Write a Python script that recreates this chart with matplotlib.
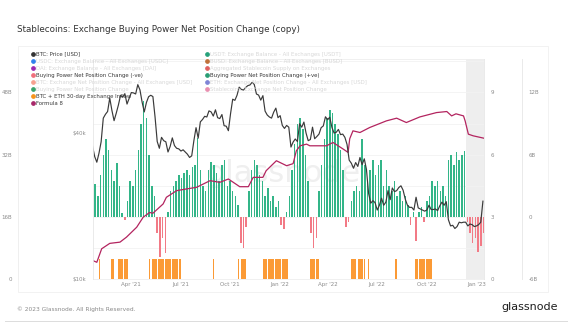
import numpy as np
import pandas as pd
import matplotlib.pyplot as plt
from matplotlib.lines import Line2D
from matplotlib.patches import Rectangle
from matplotlib.ticker import NullLocator, FixedLocator

# ---- data ----
# BTC price, one value every 4 days from 2021-01-19
btc_price = [35500, 32100, 30400, 33100, 36900, 46200, 47900, 49200, 55900, 49700,
             45100, 48400, 52300, 57300, 56400, 58300, 52800, 55800, 58900, 58700,
             58100, 63500, 60400, 53800, 49000, 53600, 56600, 57400, 56700, 46700,
             37000, 34700, 38500, 37300, 36900, 33500, 35300, 38300, 35600, 34700,
             34500, 33800, 34200, 33500, 32800, 31800, 32300, 37300, 42200, 38200,
             44600, 45600, 47000, 46700, 49500, 49000, 47100, 50000, 46400, 46000,
             47800, 43000, 42800, 41000, 48200, 55300, 54700, 57400, 62000, 60700,
             60300, 61800, 62900, 63300, 64900, 63600, 58100, 57500, 54800, 57200,
             49400, 47600, 46700, 46200, 48900, 50800, 46400, 47300, 43100, 41900,
             43100, 42400, 35100, 36800, 37900, 37000, 43800, 42400, 44500, 40100,
             37300, 37700, 42400, 38000, 38800, 39700, 42200, 42900, 46800, 45500,
             46600, 42300, 40100, 40400, 41500, 39500, 39700, 38500, 36000, 31000,
             30100, 28700, 30300, 29200, 31800, 29700, 31400, 28400, 22600, 20600,
             21100, 20700, 19300, 20200, 21600, 20200, 20800, 23200, 21300, 23800,
             23000, 23200, 23900, 24300, 23300, 21400, 20200, 19800, 19800, 19300,
             21800, 19700, 19500, 19300, 19100, 19300, 20200, 19400, 19400, 19500,
             19200, 20100, 20800, 20200, 20900, 17600, 16600, 16700, 16200, 16500,
             17200, 17100, 17200, 17200, 16600, 16900, 16800, 16500, 16600, 16800,
             17200, 21000]

# Buying power net position change [B USD], one bar every 5 days from 2021-01-19
net_change = [2.5, 3.2, 2.0, 4.0, 6.0, 7.5, 6.5, 4.5, 3.5, 5.2,
              3.0, 0.4, -0.3, 1.5, 3.5, 3.0, 4.5, 6.5, 9.0, 11.2,
              9.5, 6.0, 3.0, 2.0, -1.5, -3.9, -2.0, -3.5, 0.5, 2.5,
              3.0, 3.5, 4.0, 3.8, 4.2, 4.5, 4.0, 4.8, 5.0, 7.6,
              4.5, 3.0, 2.5, 4.5, 5.3, 5.0, 4.2, 3.5, 5.0, 5.5,
              3.0, 3.5, 2.5, 2.0, 1.2, -2.5, -3.0, -1.0, 2.5, 4.5,
              5.5, 5.0, 4.0, 3.5, 2.0, 2.8, 1.5, 2.0, 1.0, 1.5,
              -0.8, -1.2, 0.5, 2.0, 4.5, 7.0, 9.0, 9.5, 8.5, 6.0,
              3.5, -1.5, -3.0, -2.0, 2.5, 5.0, 7.5, 9.5, 10.3, 10.0,
              9.0, 8.0, 6.5, 4.5, -1.0, -0.5, 1.5, 2.5, 3.0, 2.5,
              7.5, 5.0, 3.5, 4.5, 5.5, 4.0, 5.0, 5.5, 3.0, 4.5,
              3.0, 2.5, 3.5, 2.0, 2.5, 1.5, 2.0, 1.2, -0.8, 0.5,
              -2.3, 0.5, 1.0, -0.5, 1.5, 2.0, 3.5, 3.0, 3.5, 2.5,
              3.0, 2.0, 5.5, 6.0, 5.0, 6.3, 5.5, 6.0, 6.4, -0.5,
              -1.5, -2.5, -2.0, -3.4, -2.8, -1.5]

formula8_dates = ['2021-01-19', '2021-01-27', '2021-02-05', '2021-02-20', '2021-03-11',
                  '2021-03-23', '2021-04-11', '2021-04-23', '2021-05-05', '2021-05-11',
                  '2021-05-30', '2021-06-05', '2021-06-24', '2021-07-12', '2021-07-31',
                  '2021-08-25', '2021-09-12', '2021-09-28', '2021-10-19', '2021-11-04',
                  '2021-11-13', '2021-12-01', '2021-12-07', '2021-12-26', '2022-01-14',
                  '2022-01-26', '2022-02-01', '2022-02-08', '2022-02-20', '2022-02-26',
                  '2022-03-29', '2022-04-10', '2022-04-29', '2022-05-08', '2022-05-11',
                  '2022-05-17', '2022-05-30', '2022-06-17', '2022-07-18', '2022-08-06',
                  '2022-08-24', '2022-09-18', '2022-10-19', '2022-11-07', '2022-11-16',
                  '2022-11-24', '2022-12-08', '2022-12-11', '2022-12-17', '2022-12-26',
                  '2023-01-14']
formula8 = [0.91, 0.82, 1.47, 1.73, 1.79, 2.03, 2.51, 2.99, 3.22, 3.18,
            3.63, 3.95, 4.27, 4.35, 4.43, 4.75, 4.67, 4.83, 4.46, 4.46,
            4.91, 4.91, 5.23, 5.71, 5.47, 5.57, 6.19, 6.43, 6.51, 6.43,
            6.43, 6.59, 6.27, 6.11, 6.77, 7.15, 7.07, 7.31, 7.63, 7.76,
            7.55, 7.82, 8.03, 8.08, 7.87, 7.97, 7.87, 7.63, 6.99, 6.91,
            6.80]

# periods where the BTC + ETH 30-day exchange inflow flag is 1
inflow_start = ['2021-02-01', '2021-02-22', '2021-03-07', '2021-05-05', '2021-08-31',
                '2021-10-17', '2021-12-01', '2022-02-23', '2022-05-10', '2022-06-14',
                '2022-08-04', '2022-09-04', '2022-09-10']
inflow_end = ['2021-02-02', '2021-02-28', '2021-03-25', '2021-07-01', '2021-09-01',
              '2021-11-01', '2022-01-17', '2022-03-15', '2022-06-08', '2022-06-16',
              '2022-08-10', '2022-09-05', '2022-10-11']

tick_dates = ['2021-04-01', '2021-07-01', '2021-10-01', '2022-01-01',
              '2022-04-01', '2022-07-01', '2022-10-01', '2023-01-01']
tick_labels = ["Apr '21", "Jul '21", "Oct '21", "Jan '22",
               "Apr '22", "Jul '22", "Oct '22", "Jan '23"]

legend_left = ["BTC: Price [USD]",
               "USDC: Exchange Balance - All Exchanges [USDC]",
               "DAI: Exchange Balance - All Exchanges [DAI]",
               "Buying Power Net Position Change (-ve)",
               "BTC: Exchange Net Position Change - All Exchanges [USD]",
               "Buying Power Net Position Change",
               "BTC + ETH 30-day Exchange Inflow",
               "Formula 8"]
legend_left_on = [True, False, False, True, False, False, True, True]
legend_left_col = ['#333333', '#2f80ed', '#9c27b0', '#f0707d', '#f7a08f',
                   '#3aa36b', '#f7931a', '#a8286a']
legend_right = ["USDT: Exchange Balance - All Exchanges [USDT]",
                "BUSD: Exchange Balance - All Exchanges [BUSD]",
                "Aggregated Stablecoin Supply on Exchanges",
                "Buying Power Net Position Change (+ve)",
                "ETH: Exchange Net Position Change - All Exchanges [USD]",
                "Stablecoins: Exchange Net Position Change"]
legend_right_on = [False, False, False, True, False, False]
legend_right_col = ['#26a17b', '#c0713a', '#e06060', '#2a9d74', '#7f84d6', '#e98fb0']

# ---- layout ----
W, H = 572, 329
fig = plt.figure(figsize=(W / 100, H / 100), dpi=100)
fig.patch.set_facecolor('white')


def fx(x):
    return x / W


def fy(y):
    return 1 - y / H


x0, x1, y0, y1 = 92.5, 484, 59, 279.3
ax = fig.add_axes([fx(x0), fy(y1), (x1 - x0) / W, (y1 - y0) / H])
ax.patch.set_visible(False)
ax_bar = ax.twinx()
ax_r1 = ax.twinx()
ax_p = ax.twinx()

spine_c = '#e6e6e6'
lab_c = '#8c8c8c'
fs = 4

price_dates = pd.date_range('2021-01-19', periods=len(btc_price), freq='4D')
bar_dates = pd.date_range('2021-01-19', periods=len(net_change), freq='5D')
net = np.array(net_change)

# base axis: stablecoin balance scale (0 .. 48B) with grid
ax.set_ylim(0, 56.58)
ax.yaxis.set_major_locator(FixedLocator([0, 16, 32, 48]))
ax.set_yticklabels(['0', '16B', '32B', '48B'])
ax.yaxis.set_minor_locator(FixedLocator([8, 24, 40, 56]))
ax.grid(True, axis='y', which='both', color='#f2f2f2', lw=0.6)
ax.set_axisbelow(True)
ax.spines['left'].set_position(('outward', 53.5))
ax.tick_params(axis='y', which='both', length=0, labelsize=fs, labelcolor=lab_c, pad=4.3)
ax.axvspan(pd.Timestamp('2022-12-12'), pd.Timestamp('2023-01-16'), color='#ebebeb', alpha=0.85, lw=0, zorder=0)
ax.text(0.487, 0.48, 'glassnode', transform=ax.transAxes, fontsize=22, color='#efefef',
        ha='center', va='center', zorder=0.5)

# buying power bars
ax_bar.bar(bar_dates[net >= 0], net[net >= 0], width=2.8, color='#33b588', lw=0)
ax_bar.bar(bar_dates[net < 0], net[net < 0], width=2.8, color='#f27a86', lw=0)
ax_bar.set_ylim(-6, 15.22)
ax_bar.set_yticks([-6, 0, 6, 12])
ax_bar.set_yticklabels(['-6B', '0', '6B', '12B'])
ax_bar.spines['right'].set_position(('outward', 27.7))
ax_bar.tick_params(axis='y', length=0, labelsize=fs, labelcolor=lab_c, pad=4.3)

# inflow flag + formula 8
for s, e in zip(inflow_start, inflow_end):
    days = pd.date_range(s, e, freq='D')
    ax_r1.bar(days, np.ones(len(days)), width=0.8, color='#fb9a35', lw=0)
ax_r1.plot(pd.to_datetime(formula8_dates), formula8, color='#b3245f', lw=0.9)
ax_r1.set_ylim(0, 10.61)
ax_r1.set_yticks([0, 3, 6, 9])
ax_r1.tick_params(axis='y', length=0, labelsize=fs, labelcolor=lab_c, pad=4.5)

# BTC price
ax_p.plot(price_dates, btc_price, color='#3a3a3a', lw=0.85)
ax_p.set_yscale('log')
ax_p.set_ylim(10000, 81000)
ax_p.yaxis.tick_left()
ax_p.yaxis.set_label_position('left')
ax_p.yaxis.set_major_locator(FixedLocator([10000, 40000]))
ax_p.yaxis.set_minor_locator(NullLocator())
ax_p.set_yticklabels(['$10k', '$40k'])
ax_p.tick_params(axis='y', length=0, labelsize=fs, labelcolor=lab_c, pad=4.8)

for a in (ax, ax_bar, ax_r1, ax_p):
    for sp in a.spines.values():
        sp.set_visible(False)
for a, side in ((ax, 'left'), (ax_bar, 'right'), (ax_r1, 'right'), (ax_p, 'left')):
    a.spines[side].set_visible(True)
    a.spines[side].set_color(spine_c)
    a.spines[side].set_linewidth(0.6)
for side in ('top', 'bottom'):
    ax.spines[side].set_visible(True)
    ax.spines[side].set_color('#eeeeee')
    ax.spines[side].set_linewidth(0.6)

ax.set_xlim(pd.Timestamp('2021-01-19'), pd.Timestamp('2023-01-15'))
ax.set_xticks(pd.to_datetime(tick_dates))
ax.set_xticklabels(tick_labels)
ax.tick_params(axis='x', length=0, labelsize=fs, labelcolor=lab_c, pad=2)

# ---- title, legend, footer ----
fig.text(fx(17), fy(29), 'Stablecoins: Exchange Buying Power Net Position Change (copy)',
         fontsize=6.3, color='#333333', ha='left', va='center')

for i, lab in enumerate(legend_left):
    yy = 54.3 + 7.0 * i
    fig.add_artist(Line2D([fx(33)], [fy(yy)], marker='o', ms=2.4, color=legend_left_col[i],
                          lw=0, transform=fig.transFigure))
    fig.text(fx(36.5), fy(yy), lab, fontsize=3.9, va='center', ha='left',
             color='#3a3a3a' if legend_left_on[i] else '#d8d8d8')
for i, lab in enumerate(legend_right):
    yy = 54.3 + 7.0 * i
    fig.add_artist(Line2D([fx(207)], [fy(yy)], marker='o', ms=2.4, color=legend_right_col[i],
                          lw=0, transform=fig.transFigure))
    fig.text(fx(210.5), fy(yy), lab, fontsize=3.9, va='center', ha='left',
             color='#3a3a3a' if legend_right_on[i] else '#d8d8d8')

fig.add_artist(Rectangle((fx(18), fy(292)), fx(548) - fx(18), fy(46) - fy(292),
                         transform=fig.transFigure, fill=False, ec='#f0f0f0', lw=0.6))
fig.add_artist(Line2D([fx(5), fx(567)], [fy(321), fy(321)], color='#dcdcdc', lw=0.7,
                      transform=fig.transFigure))
fig.text(fx(17), fy(309), '\u00a9 2023 Glassnode. All Rights Reserved.', fontsize=4.2,
         color='#8a8a8a', ha='left', va='center')
fig.text(fx(558), fy(307), 'glassnode', fontsize=8, color='#1e1e1e', ha='right', va='center')

fig.savefig('out.png', dpi=100)
